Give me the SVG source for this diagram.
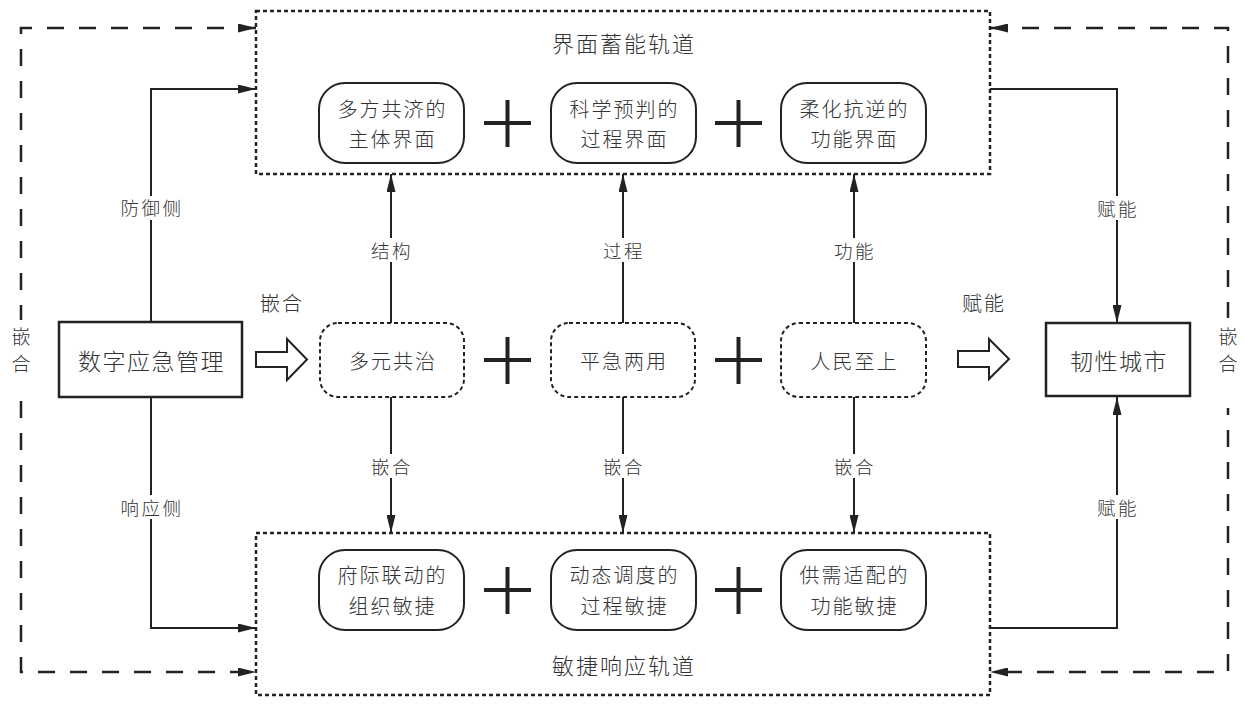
<svg xmlns="http://www.w3.org/2000/svg" width="1246" height="706" viewBox="0 0 1246 706">
<style>
text{font-family:"Noto Sans CJK SC","Noto Sans",sans-serif;font-weight:300;fill:#333;text-anchor:middle;dominant-baseline:central}
.t22{font-size:23px;letter-spacing:1.5px}
.t21{font-size:22px;letter-spacing:2px}
.t19{font-size:20px;letter-spacing:2px}
.t18{font-size:18.5px;letter-spacing:2.5px}
.tv{font-size:19px}
.box{fill:#fff;stroke:#222;stroke-width:2.5}
.track{fill:none;stroke:#222;stroke-width:2.5;stroke-dasharray:4 3}
.rnode{fill:#fff;stroke:#222;stroke-width:2}
.dnode{fill:#fff;stroke:#222;stroke-width:2;stroke-dasharray:4 3}
.line{fill:none;stroke:#222;stroke-width:2}
.loop{fill:none;stroke:#222;stroke-width:2.5;stroke-dasharray:17 15}
.plus{stroke:#222;stroke-width:4;fill:none}
.block{fill:#fff;stroke:#222;stroke-width:2}
.bg{fill:#fff}
</style>
<defs>
<marker id="arr" viewBox="0 0 18 9" refX="18" refY="4.5" markerUnits="userSpaceOnUse" markerWidth="18" markerHeight="9" orient="auto-start-reverse">
<path d="M0,0 L18,4.5 L0,9 Z" fill="#222" stroke="none"/>
</marker>
</defs>

<g id="track-top">
<rect class="track" x="256" y="11" width="734" height="163"/>
<text class="t21" x="624" y="42">界面蓄能轨道</text>
</g>
<g id="track-bottom">
<rect class="track" x="256" y="533" width="734" height="162"/>
<text class="t21" x="624" y="664">敏捷响应轨道</text>
</g>

<g id="connectors">
<path class="loop" d="M256,28 H21 V672 H256" marker-start="url(#arr)" marker-end="url(#arr)"/>
<path class="loop" d="M990,28 H1228 V672 H990" marker-start="url(#arr)" marker-end="url(#arr)"/>
<rect class="bg" x="8" y="320" width="26" height="76"/>
<rect class="bg" x="1214" y="318" width="28" height="90"/>
<path class="line" d="M151,322 V89 H256" marker-end="url(#arr)"/>
<path class="line" d="M151,397 V628 H256" marker-end="url(#arr)"/>
<path class="line" d="M990,89 H1117 V323" marker-end="url(#arr)"/>
<path class="line" d="M990,628 H1117 V397" marker-end="url(#arr)"/>
<path class="line" d="M391,323 V174" marker-end="url(#arr)"/>
<path class="line" d="M623,323 V174" marker-end="url(#arr)"/>
<path class="line" d="M854,323 V174" marker-end="url(#arr)"/>
<path class="line" d="M391,397 V533" marker-end="url(#arr)"/>
<path class="line" d="M623,397 V533" marker-end="url(#arr)"/>
<path class="line" d="M854,397 V533" marker-end="url(#arr)"/>
<polygon class="block" points="256,352 287,352 287,339 307,359.5 287,380 287,367 256,367"/>
<polygon class="block" points="958,351 989,351 989,339 1009,359 989,379 989,367 958,367"/>
<rect class="bg" x="114" y="196" width="74" height="24"/>
<rect class="bg" x="114" y="495" width="74" height="24"/>
<rect class="bg" x="1092" y="196" width="50" height="24"/>
<rect class="bg" x="1092" y="495" width="50" height="24"/>
<rect class="bg" x="367" y="238" width="48" height="24"/>
<rect class="bg" x="599" y="238" width="48" height="24"/>
<rect class="bg" x="830" y="238" width="48" height="24"/>
<rect class="bg" x="367" y="454" width="48" height="24"/>
<rect class="bg" x="599" y="454" width="48" height="24"/>
<rect class="bg" x="830" y="454" width="48" height="24"/>
<text class="t18" x="152" y="207">防御侧</text>
<text class="t18" x="152" y="507">响应侧</text>
<text class="t18" x="1118" y="208">赋能</text>
<text class="t18" x="1118" y="507">赋能</text>
<text class="t18" x="392" y="250">结构</text>
<text class="t18" x="624" y="250">过程</text>
<text class="t18" x="855" y="250">功能</text>
<text class="t18" x="392" y="466">嵌合</text>
<text class="t18" x="624" y="466">嵌合</text>
<text class="t18" x="855" y="466">嵌合</text>
<text class="t19" x="282" y="302">嵌合</text>
<text class="t19" x="984" y="302">赋能</text>
<text class="tv" x="21" y="335">嵌</text>
<text class="tv" x="21" y="362">合</text>
<text class="tv" x="1228" y="335">嵌</text>
<text class="tv" x="1228" y="362">合</text>
</g>

<g id="node-digital">
<rect class="box" x="59" y="322" width="183" height="75"/>
<text class="t22" x="151.5" y="359.5">数字应急管理</text>
</g>
<g id="node-city">
<rect class="box" x="1046" y="323" width="144" height="73"/>
<text class="t22" x="1119" y="359.5">韧性城市</text>
</g>

<g id="node-m1">
<rect class="dnode" x="320" y="323" width="144" height="74" rx="18"/>
<text class="t19" x="393" y="360">多元共治</text>
</g>
<g id="node-m2">
<rect class="dnode" x="551" y="323" width="144" height="74" rx="18"/>
<text class="t19" x="624" y="360">平急两用</text>
</g>
<g id="node-m3">
<rect class="dnode" x="781" y="323" width="145" height="74" rx="18"/>
<text class="t19" x="854.5" y="360">人民至上</text>
</g>

<g id="node-t1">
<rect class="rnode" x="319" y="83" width="145" height="80" rx="26"/>
<text class="t19" x="392.5" y="108">多方共济的</text>
<text class="t19" x="392.5" y="138">主体界面</text>
</g>
<g id="node-t2">
<rect class="rnode" x="551" y="83" width="145" height="80" rx="26"/>
<text class="t19" x="624.5" y="108">科学预判的</text>
<text class="t19" x="624.5" y="138">过程界面</text>
</g>
<g id="node-t3">
<rect class="rnode" x="781" y="83" width="145" height="80" rx="26"/>
<text class="t19" x="854.5" y="108">柔化抗逆的</text>
<text class="t19" x="854.5" y="138">功能界面</text>
</g>

<g id="node-b1">
<rect class="rnode" x="319" y="550" width="145" height="80" rx="26"/>
<text class="t19" x="392.5" y="574">府际联动的</text>
<text class="t19" x="392.5" y="605">组织敏捷</text>
</g>
<g id="node-b2">
<rect class="rnode" x="551" y="550" width="145" height="80" rx="26"/>
<text class="t19" x="624.5" y="574">动态调度的</text>
<text class="t19" x="624.5" y="605">过程敏捷</text>
</g>
<g id="node-b3">
<rect class="rnode" x="781" y="550" width="145" height="80" rx="26"/>
<text class="t19" x="854.5" y="574">供需适配的</text>
<text class="t19" x="854.5" y="605">功能敏捷</text>
</g>

<g id="plus-signs">
<path class="plus" d="M484,123 H531 M507.5,100 V147"/>
<path class="plus" d="M715,123 H762 M738.5,100 V147"/>
<path class="plus" d="M484,360 H531 M507.5,337 V384"/>
<path class="plus" d="M715,360 H762 M738.5,337 V384"/>
<path class="plus" d="M484,590 H531 M507.5,567 V614"/>
<path class="plus" d="M715,590 H762 M738.5,567 V614"/>
</g>
</svg>
